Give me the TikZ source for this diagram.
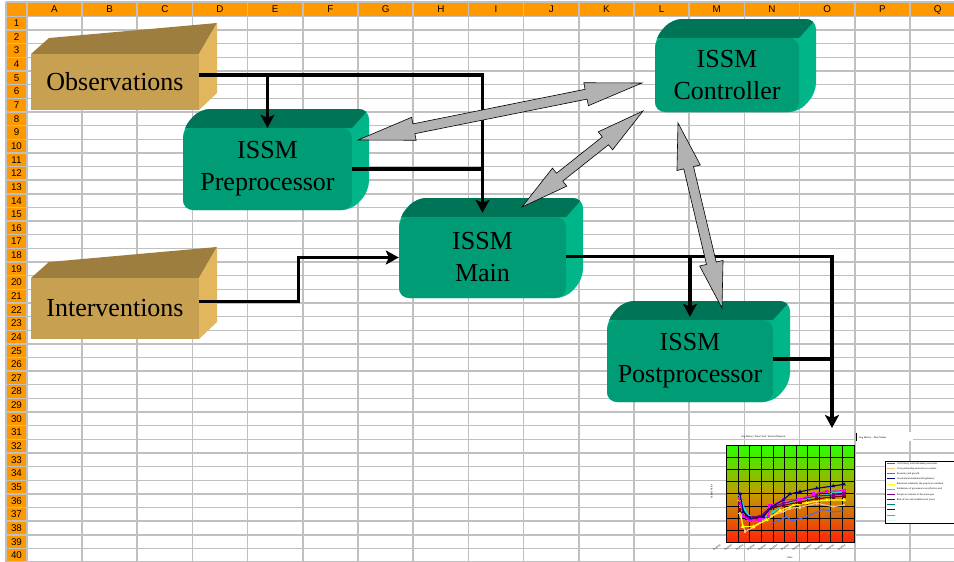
\documentclass[tikz,border=0pt]{standalone}
\usepackage{fontspec}
\setmainfont{Liberation Serif}
\newfontfamily\hdrfont{Liberation Sans}
\usetikzlibrary{calc,arrows.meta,plotmarks}
\definecolor{hdrorange}{RGB}{255,153,0}
\definecolor{gridgray}{RGB}{192,192,192}
\definecolor{tanfront}{RGB}{200,160,82}
\definecolor{tantop}{RGB}{158,126,62}
\definecolor{tanside}{RGB}{226,182,92}
\definecolor{grnfront}{RGB}{0,156,118}
\definecolor{grntop}{RGB}{0,116,86}
\definecolor{grnside}{RGB}{0,182,136}
\definecolor{arrowgray}{RGB}{178,178,178}
\definecolor{cgreen}{RGB}{40,255,0}
\definecolor{colive}{RGB}{195,155,0}
\definecolor{cred}{RGB}{255,35,10}
\definecolor{s1}{RGB}{255,0,255}
\definecolor{s2}{RGB}{250,190,140}
\definecolor{s3}{RGB}{70,110,230}
\definecolor{s4}{RGB}{0,0,128}
\definecolor{s5}{RGB}{255,255,0}
\definecolor{s6}{RGB}{0,230,230}
\definecolor{s7}{RGB}{128,0,128}
\definecolor{s8}{RGB}{128,0,0}
\definecolor{s9}{RGB}{0,128,128}
\definecolor{s10}{RGB}{0,0,255}
\definecolor{s11}{RGB}{0,200,255}
\definecolor{s12}{RGB}{200,255,255}

\tikzset{
  gridline/.style={draw=gridgray, line width=1.6pt},
  hdrlbl/.style={font=\hdrfont\fontsize{9.8}{10}\selectfont, inner sep=0pt, text=black},
  boxtext/.style={font=\fontsize{26}{32}\selectfont, align=center, text=black},
  greenface/.style={boxtext, fill=grnfront, rounded corners=10pt, inner sep=0pt},
  tanface/.style={boxtext, fill=tanfront, inner sep=0pt},
  flow/.style={line width=3.4pt, draw=black},
  flowarrow/.style={flow, -{Stealth[length=13pt,width=14pt,inset=3pt]}},
  garrow/.style={fill=arrowgray, draw=black, line width=0.6pt, line join=miter},
  series/.style={line width=1.1pt},
  tiny/.style={font=\fontsize{2.6}{3}\selectfont, inner sep=0pt},
}

\newcommand\greenbox[6]{%
  \begin{scope}
    \clip[rounded corners=10pt] (#2,#5) -- (#2,#3) -- ({#2+17},{#3-19}) -- ({#4+17},{#3-19}) -- ({#4+17},{#5-19}) -- (#4,#5) -- cycle;
    \fill[grnside] ({#2-30},{#3-40}) rectangle ({#4+30},{#5+10});
    \fill[grntop] ({#2-30},#3) -- (#4,#3) -- ({#4+17},{#3-19}) -- ({#4+17},{#3-40}) -- ({#2-30},{#3-40}) -- cycle;
  \end{scope}
  \node[greenface, minimum width={(#4-#2)*1pt}, minimum height={(#5-#3)*1pt}] (#1) at ({(#2+#4)/2},{(#3+#5)/2}) {#6};
}
\newcommand\tanbox[6]{%
  \fill[tantop] (#2,#3) -- ({#2+18},{#3-16}) -- ({#4+18},{#3-31}) -- (#4,#3) -- cycle;
  \fill[tanside] (#4,#3) -- ({#4+18},{#3-31}) -- ({#4+18},{#5-17}) -- (#4,#5) -- cycle;
  \node[tanface, minimum width={(#4-#2)*1pt}, minimum height={(#5-#3)*1pt}] (#1) at ({(#2+#4)/2},{(#3+#5)/2}) {#6};
}
% double block arrow: tipA tipB headlength headhalfwidth shafthalfwidth
\newcommand\dblarrow[5]{%
  \path ($(#1)!#3!(#2)$) coordinate (da1) ($(#2)!#3!(#1)$) coordinate (da2);
  \filldraw[garrow] (#1) -- ($(da1)!#4!90:(#2)$) -- ($(da1)!#5!90:(#2)$) -- ($(da2)!#5!-90:(#1)$) -- ($(da2)!#4!-90:(#1)$) -- (#2) -- ($(da2)!#4!90:(#1)$) -- ($(da2)!#5!90:(#1)$) -- ($(da1)!#5!-90:(#2)$) -- ($(da1)!#4!-90:(#2)$) -- cycle;
}

\begin{document}
\begin{tikzpicture}[x=1pt,y=-1pt]
\useasboundingbox (0,0) rectangle (954,562);
\fill[white] (0,0) rectangle (954,562);
% ---- spreadsheet background ----
\fill[hdrorange] (7,3) rectangle (954,15.5);
\fill[hdrorange] (7,3) rectangle (26,562);
\foreach \k in {0,...,41} \draw[gridline, line width=1.4pt] (7,{16.5+13.64*\k}) -- (954,{16.5+13.64*\k});
\foreach \k in {0,...,17} \draw[gridline] ({26.8+55.2*\k},3) -- ({26.8+55.2*\k},562);
\draw[gridline] (5.5,2.2) -- (954,2.2);
\draw[gridline] (6.2,2) -- (6.2,562);
\foreach \c [count=\i] in {A,B,C,D,E,F,G,H,I,J,K,L,M,N,O,P,Q}
  \node[hdrlbl] (col\c) at ({26.8+55.2*(\i-0.5)},9.6) {\c};
\foreach \r in {1,...,40}
  \node[hdrlbl] (row\r) at (16.5,{16.5+13.64*(\r-0.5)}) {\r};

% ---- chart ----
\begin{scope}[xshift=700pt,yshift=-420pt,x=0.3333pt,y=-0.3333pt]
  \fill[white] (470,35) rectangle (640,62);
  \draw[black, line width=0.6pt] (470,38) -- (470,62);
  \node[tiny] (ctitle) at (190,50) {Avg History Time Chart: Selected Reports};
  \node[tiny, anchor=west] (ctitle2) at (476,53) {Avg History - Data Values};
  \shade[top color=cgreen, bottom color=cred, middle color=colive] (80,75) rectangle (462,368);
  \foreach \i in {0,...,11} \draw[black, line width=0.7pt] ({80+34.727*\i},75) -- ({80+34.727*\i},368);
  \foreach \j in {0,...,8} \draw[black, line width=0.7pt] (80,{75+36.625*\j}) -- (462,{75+36.625*\j});
  \draw[series, s2, mark=+, mark size=1.2pt] plot coordinates {(118,280)(135,335)(160,322)(200,292)(250,275)(270,265)(300,262)(350,250)(400,260)(432,255)};
  \draw[series, s5, mark=triangle*, mark size=1.2pt] plot coordinates {(118,240)(128,320)(160,320)(200,300)(240,272)(280,256)(320,248)(380,240)(432,240)};
  \draw[series, s3] plot coordinates {(215,310)(240,300)(260,290)(275,303)(300,296)(330,285)(370,268)(400,276)(432,272)};
  \draw[series, s6, mark=*, mark size=1pt] plot coordinates {(118,225)(135,270)(150,290)(190,295)(220,275)(260,250)(300,240)(350,230)(400,220)(432,215)};
  \draw[series, s8, mark=square*, mark size=1.1pt] plot coordinates {(118,270)(140,296)(180,296)(210,266)(250,256)(300,246)(350,236)(400,231)(432,228)};
  \draw[series, s7, mark=square*, mark size=1.1pt] plot coordinates {(118,250)(140,290)(180,290)(210,262)(250,250)(300,238)(350,228)(400,225)(432,222)};
  \draw[series, s1, mark=square*, mark size=1.2pt] plot coordinates {(118,235)(130,290)(150,300)(180,300)(205,290)(210,258)(250,240)(300,238)(340,222)(380,214)(432,212)};
  \draw[series, s4, mark=triangle*, mark size=1.1pt] plot coordinates {(120,222)(130,275)(150,295)(190,290)(215,260)(250,240)(270,222)(300,215)(350,205)(400,198)(432,193)};
  \node[tiny, rotate=90] (cylab) at (35,215) {Satisfy Value};
  \node[tiny] (cxlab) at (270,412) {Date};
  \foreach \x [count=\n] in {60,94,128,162,196,230,264,298,332,366,400,434}
    \node[tiny, rotate=35, anchor=north east] (xt\n) at (\x,372) {10/28/04};
  % legend
  \fill[white] (557,123) rectangle (790,310);
  \draw[black, line width=0.6pt] (790,123) -- (557,123) -- (557,310) -- (790,310);
  \foreach \col/\txt [count=\n] in {s1/{Civil liberty and individual protections}, s2/{Civil partnership and same sex unions}, s3/{Economy and growth}, s4/{Government institutional legitimacy}, s5/{Education standards, the people are satisfied}, s6/{Institutions of governance are effective and}, s7/{People are tolerant of the status quo}, s8/{Rule of law and conditions for peace}, s9/{}, s10/{}, s11/{}, s12/{}} {
    \draw[\col, line width=1pt] (562,{115+15.5*\n}) -- (585,{115+15.5*\n});
    \node[tiny, anchor=west] (lg\n) at (590,{115+15.5*\n}) {\txt};
  }
\end{scope}

% ---- boxes ----
\tanbox{obs}{31}{54}{199}{110}{Observations}
\tanbox{int}{31}{278}{199}{339}{Interventions}
\greenbox{ctrl}{655}{38}{799}{112}{ISSM\\Controller}
\greenbox{pre}{183}{128}{352}{210}{ISSM\\Preprocessor}
\greenbox{main}{399}{217}{566}{298}{ISSM\\Main}
\greenbox{post}{607}{320}{773}{402}{ISSM\\Postprocessor}

% ---- flow connectors ----
\coordinate (obsout) at ([yshift=7pt]obs.east);
\coordinate (intout) at ([yshift=7pt]int.east);
\coordinate (chartin) at (832,428);
\draw[flowarrow] (obsout) -| ([yshift=4pt]main.north);
\draw[flowarrow] (obsout -| pre.north) -- (pre.north);
\draw[flow] (pre.east) -- (pre.east -| main.north);
\draw[flowarrow] (intout) -- ++(99,0) |- (main.west);
\draw[flowarrow] ([yshift=1pt]main.east) -| (chartin);
\draw[flowarrow] ([yshift=1pt]main.east -| post.north) -- ([yshift=3pt]post.north);
\draw[flow] ([yshift=2pt]post.east) -- ([yshift=2pt]post.east -| chartin);

% ---- double arrows to/from controller ----
\coordinate (ta1) at (358,140); \coordinate (tb1) at (642,83);
\coordinate (ta2) at (522,207); \coordinate (tb2) at (643,111);
\coordinate (ta3) at (678,123); \coordinate (tb3) at (722,308);
\dblarrow{ta1}{tb1}{57pt}{11.7pt}{5pt}
\dblarrow{ta2}{tb2}{48pt}{11.5pt}{5pt}
\dblarrow{ta3}{tb3}{46pt}{12pt}{5pt}
\end{tikzpicture}
\end{document}
